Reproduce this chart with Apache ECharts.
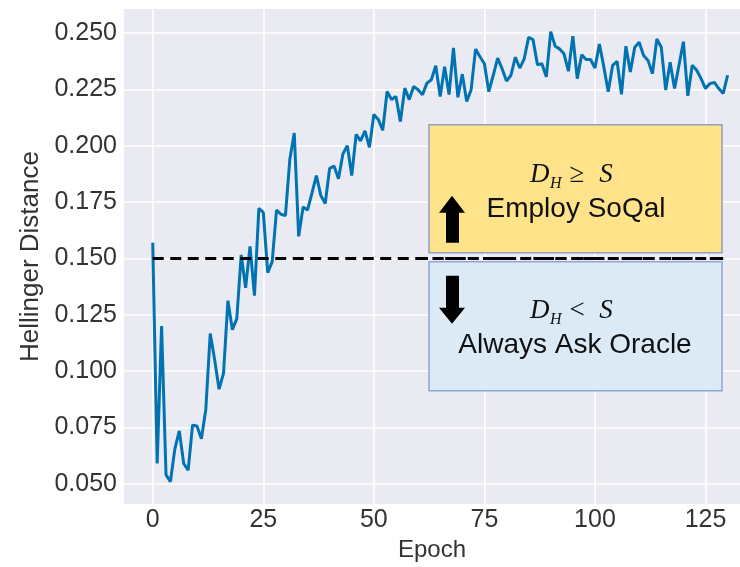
<!DOCTYPE html>
<html>
<head>
<meta charset="utf-8">
<script src="https://cdn.jsdelivr.net/npm/echarts@6/dist/echarts.min.js"></script>
<style>
  html, body { margin: 0; padding: 0; background: #fff; }
  #chart { width: 740px; height: 567px; }
</style>
</head>
<body>
<div id="chart"></div>
<script>
var myChart = echarts.init(document.getElementById("chart"));

// Hellinger distance per epoch (epoch 0 .. 130)
var hellinger = [
	0.157, 0.059, 0.120, 0.054, 0.051, 0.0655, 0.0735, 0.059, 0.056, 0.076,
	0.0757, 0.070, 0.083, 0.1167, 0.105, 0.092, 0.099, 0.1313, 0.1184, 0.1232,
	0.1516, 0.137, 0.1554, 0.1335, 0.1722, 0.1705, 0.1437, 0.1485, 0.1715, 0.1696,
	0.169, 0.194, 0.2057, 0.1598, 0.1728, 0.1715, 0.179, 0.1868, 0.178, 0.1744,
	0.190, 0.191, 0.1854, 0.1964, 0.200, 0.1868, 0.2051, 0.2022, 0.2066, 0.1993,
	0.2139, 0.2117, 0.2069, 0.2241, 0.2205, 0.2219, 0.2107, 0.2256, 0.2205, 0.2263,
	0.2249, 0.2227, 0.2278, 0.2293, 0.2355, 0.2219, 0.2351, 0.2227, 0.2434, 0.2215,
	0.2318, 0.2197, 0.2249, 0.2429, 0.2395, 0.2364, 0.224, 0.2313, 0.2389, 0.2342,
	0.2287, 0.2313, 0.2393, 0.2345, 0.2386, 0.2481, 0.2471, 0.236, 0.2364, 0.2306,
	0.2506, 0.2442, 0.243, 0.2408, 0.2331, 0.2486, 0.2298, 0.2404, 0.2383, 0.2383,
	0.2345, 0.2452, 0.2351, 0.224, 0.2357, 0.2375, 0.2228, 0.2442, 0.2328, 0.2437,
	0.2459, 0.2401, 0.2379, 0.232, 0.2474, 0.2437, 0.2247, 0.2371, 0.2254, 0.2357,
	0.2462, 0.2222, 0.2357, 0.2335, 0.2298, 0.2254, 0.2276, 0.2281, 0.2254, 0.2232,
	0.2313
];

var threshold = 0.15;
var thresholdEpochs = [0, 129];

var xTicks = [0, 25, 50, 75, 100, 125];
var yTicks = [0.05, 0.075, 0.1, 0.125, 0.15, 0.175, 0.2, 0.225, 0.25];

var lineData = hellinger.map(function(v, i) {
	return [i, v];
});
var thresholdData = thresholdEpochs.map(function(e) {
	return [e, threshold];
});

var labelFont = "'Liberation Sans', Arial, sans-serif";
var mathFont = "'Liberation Serif', 'DejaVu Serif', serif";

var option = {
	backgroundColor: "#ffffff",
	animation: false,
	grid: {
		left: 124,
		right: 0,
		top: 9,
		bottom: 54,
		show: true,
		backgroundColor: "#EAEAF2",
		borderWidth: 0
	},
	xAxis: {
		type: "value",
		min: -6.5,
		max: 132.8,
		name: "Epoch",
		nameLocation: "middle",
		nameGap: 28,
		nameTextStyle: { fontSize: 24, color: "#333", fontFamily: labelFont },
		axisLine: { show: false },
		axisTick: { show: false, customValues: xTicks },
		axisLabel: {
			customValues: xTicks,
			fontSize: 25,
			color: "#333",
			fontFamily: labelFont,
			margin: 4
		},
		splitLine: { show: true, lineStyle: { color: "#ffffff", width: 1.6 } }
	},
	yAxis: {
		type: "value",
		min: 0.041,
		max: 0.2607,
		name: "Hellinger Distance",
		nameLocation: "middle",
		nameGap: 64,
		nameTextStyle: { fontSize: 26, color: "#333", fontFamily: labelFont },
		axisLine: { show: false },
		axisTick: { show: false, customValues: yTicks },
		axisLabel: {
			customValues: yTicks,
			fontSize: 25,
			color: "#333",
			fontFamily: labelFont,
			margin: 7,
			formatter: function(v) { return v.toFixed(3); }
		},
		splitLine: { show: true, lineStyle: { color: "#ffffff", width: 1.6 } }
	},
	series: [{
			name: "Hellinger",
			type: "line",
			showSymbol: false,
			z: 3,
			lineStyle: { color: "#0173B2", width: 3 },
			data: lineData
		},
		{
			name: "threshold",
			type: "line",
			showSymbol: false,
			z: 4,
			lineStyle: { color: "#000000", width: 3, type: [11, 6.5] },
			data: thresholdData
		}
	]
};

myChart.setOption(option);

// annotation boxes hang on the threshold line
var thY = myChart.convertToPixel({ gridIndex: 0 }, [0, threshold])[1];
var dy = thY - 260.7;

function mathText(x, y, txt, size, italic, center) {
	return {
		type: "text", x: x, y: y,
		style: {
			text: txt, fontFamily: mathFont, fontStyle: italic ? "italic" : "normal",
			fontSize: size, fill: "#111",
			align: center ? "center" : "left", verticalAlign: "middle"
		}
	};
}

myChart.setOption({
	graphic: [{
		type: "group",
		x: 0,
		y: dy,
		z: 10,
		children: [
			{
				type: "rect",
				shape: { x: 429, y: 127, width: 293, height: 128 },
				style: { fill: "#FFE38A", stroke: "#8EA0BC", lineWidth: 1.5 }
			},
			{
				type: "rect",
				shape: { x: 429, y: 264, width: 293, height: 129 },
				style: { fill: "#DCEAF6", stroke: "#8EA7D2", lineWidth: 1.5 }
			},
			{
				type: "line",
				shape: { x1: 420, y1: 260.7, x2: 723, y2: 260.7 },
				style: { stroke: "#f4f4f8", lineWidth: 3.5 }
			},
			{
				type: "line",
				shape: { x1: 420, y1: 260.7, x2: 723, y2: 260.7 },
				style: { stroke: "#000000", lineWidth: 3, lineDash: [8, 4.6] }
			},
			{
				type: "polygon",
				shape: { points: [[446, 245], [459, 245], [459, 215], [465, 215], [452, 198], [439, 215], [446, 215]] },
				style: { fill: "#000000" }
			},
			{
				type: "polygon",
				shape: { points: [[446, 278], [459, 278], [459, 310], [465, 310], [452, 326], [439, 310], [446, 310]] },
				style: { fill: "#000000" }
			},
			mathText(530, 177, "D", 27, true, false),
			mathText(550, 186, "H", 16, true, false),
			mathText(577, 177, "≥", 27, false, true),
			mathText(606, 177, "S", 27, true, true),
			{
				type: "text", x: 576, y: 212,
				style: { text: "Employ SoQal", fontFamily: labelFont, fontSize: 28, fill: "#111", align: "center", verticalAlign: "middle" }
			},
			mathText(530, 313, "D", 27, true, false),
			mathText(550, 322, "H", 16, true, false),
			mathText(577, 313, "<", 27, false, true),
			mathText(606, 313, "S", 27, true, true),
			{
				type: "text", x: 575, y: 348,
				style: { text: "Always Ask Oracle", fontFamily: labelFont, fontSize: 28, fill: "#111", align: "center", verticalAlign: "middle" }
			}
		]
	}]
});
</script>
</body>
</html>
